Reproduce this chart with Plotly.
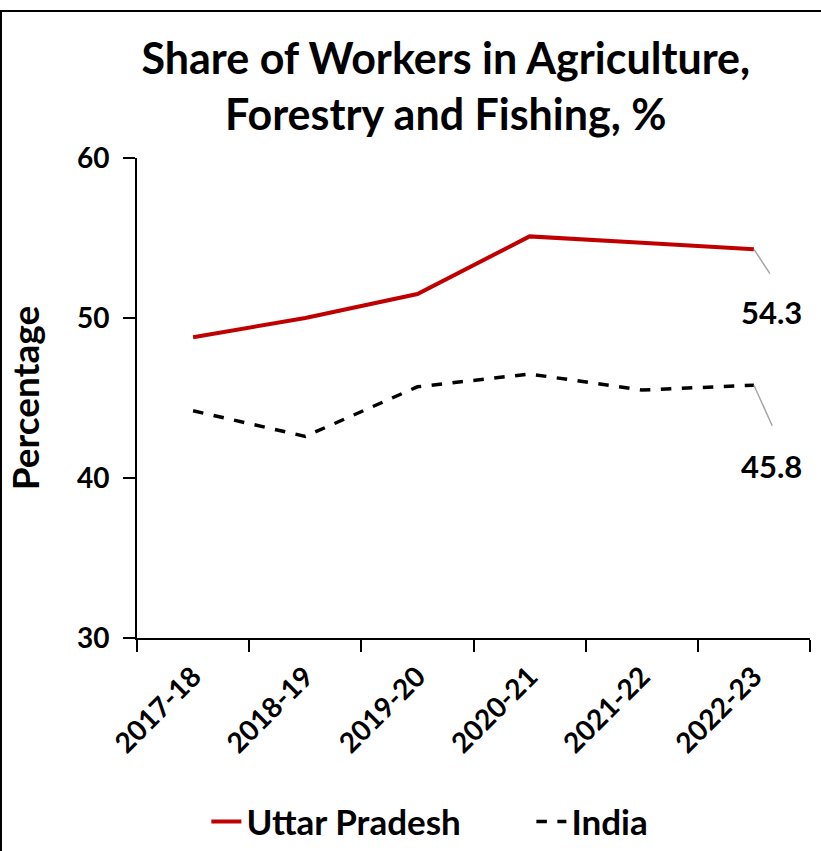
import plotly.graph_objects as go

categories = ["2017-18", "2018-19", "2019-20", "2020-21", "2021-22", "2022-23"]
up_values = [48.8, 50.0, 51.5, 55.1, 54.7, 54.3]
india_values = [44.2, 42.6, 45.7, 46.5, 45.5, 45.8]
series_names = ["Uttar Pradesh", "India"]
title_text = "Share of Workers in Agriculture,<br>Forestry and Fishing, %"
y_title = "Percentage"

FONT = "Lato"

fig = go.Figure()
fig.add_trace(go.Scatter(x=categories, y=up_values, mode="lines", name=series_names[0],
                         line=dict(color="#C00000", width=4)))
fig.add_trace(go.Scatter(x=categories, y=india_values, mode="lines", name=series_names[1],
                         line=dict(color="#000000", width=3.5, dash="dash")))

# end labels with leader lines (offsets in px)
label_styles = [(up_values, 17, 26, -63), (india_values, 19, 42, -81)]
for vals, ax, ay, ysh in label_styles:
    fig.add_annotation(x=categories[-1], y=vals[-1], text="", showarrow=True, arrowhead=0,
                       arrowwidth=1.5, arrowcolor="#A6A6A6", ax=ax, ay=ay, axref="pixel", ayref="pixel")
    fig.add_annotation(x=categories[-1], y=vals[-1], text=f"{vals[-1]:.1f}", showarrow=False,
                       xshift=18, yshift=ysh,
                       font=dict(family=FONT, size=31, color="black", weight="bold"))

fig.add_shape(type="rect", xref="paper", yref="paper", x0=-0.2021, x1=2, y0=-1, y1=1.306,
              line=dict(color="black", width=2), fillcolor="rgba(0,0,0,0)", layer="below")

fig.update_layout(
    width=821, height=851,
    margin=dict(l=137, r=11, t=158, b=213, autoexpand=False),
    paper_bgcolor="white", plot_bgcolor="white",
    title=dict(text=title_text, x=0.543, xanchor="center", y=0.913, yanchor="middle",
               yref="container", font=dict(family=FONT, size=43, color="black", weight="bold")),
    showlegend=True,
    legend=dict(orientation="h", x=0.586, xanchor="center", y=-0.383, yanchor="middle",
                font=dict(family=FONT, size=35, color="black", weight="bold"),
                entrywidth=280, tracegroupgap=0),
    xaxis=dict(type="category", range=[-0.5, 5.5], showline=True, linecolor="black", linewidth=2,
               ticks="outside", tickson="boundaries", ticklen=12, tickwidth=2, tickcolor="black",
               tickangle=-45, showgrid=False, ticklabelstandoff=9,
               tickfont=dict(family=FONT, size=28, color="black", weight="bold")),
    yaxis=dict(range=[30, 60], dtick=10, showline=True, linecolor="black", linewidth=2,
               ticks="outside", ticklen=12, tickwidth=2, tickcolor="black", showgrid=False,
               zeroline=False, ticklabelstandoff=8,
               tickfont=dict(family=FONT, size=28, color="black", weight="bold"),
               title=dict(text=y_title, font=dict(family=FONT, size=37, color="black", weight="bold"),
                          standoff=26)),
)

fig.write_html("out.html", post_script="document.body.style.margin='0px';",
               config={"displayModeBar": False})
